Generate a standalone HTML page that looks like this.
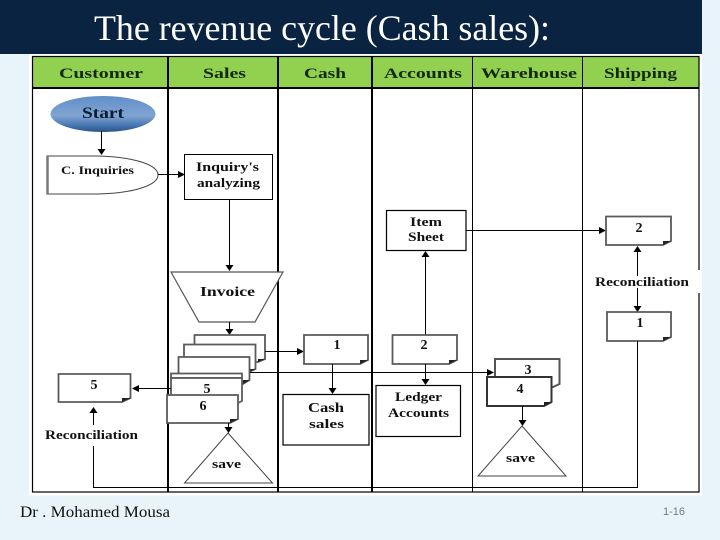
<!DOCTYPE html>
<html><head><meta charset="utf-8">
<style>
html,body{margin:0;padding:0;width:720px;height:540px;overflow:hidden;background:#e8f3fa}
svg{display:block}
text{font-family:"Liberation Serif",serif;font-weight:bold;fill:#111;text-anchor:middle}
.h{font-size:15px;fill:#14280c}
.t{font-size:13px}
.n{font-size:14px}
.d{fill:#fff;stroke:#5a5a5a;stroke-width:1.8}
.f{fill:#222;stroke:none}
.l{stroke:#000;stroke-width:1;fill:none}
.a{fill:#000;stroke:none}
</style></head><body>
<svg width="720" height="540" viewBox="0 0 720 540" xmlns="http://www.w3.org/2000/svg">
<defs>
<linearGradient id="g" x1="0" y1="0" x2="0" y2="1">
<stop offset="0" stop-color="#5f8fc8"/><stop offset=".55" stop-color="#80a4d2"/><stop offset=".85" stop-color="#3f70ac"/><stop offset="1" stop-color="#2c5585"/>
</linearGradient>
</defs>
<rect width="720" height="540" fill="#e8f3fa"/>
<rect x="0" y="0" width="702" height="54" fill="#0a2340"/>
<rect x="29" y="54" width="673" height="441.500" fill="#fff"/>
<rect x="32.500" y="56.500" width="666.500" height="32" fill="#92d050"/>
<rect x="32.500" y="56.500" width="666.500" height="435.500" fill="none" stroke="#000" stroke-width="1.200"/>
<path d="M32 88h667" stroke="#000" stroke-width="2"/>
<path d="M168 56v436M278 56v436M372 56v436" stroke="#000" stroke-width="2"/>
<path d="M472.500 56v436M582.500 56v436" stroke="#000" stroke-width="1"/>
<rect x="690" y="270" width="12" height="23" fill="#fff"/>

<text x="322" y="40" textLength="456" lengthAdjust="spacingAndGlyphs" style="font-size:36px;font-weight:normal;fill:#fff">The revenue cycle (Cash sales):</text>

<text class="h" x="101" y="78" textLength="84" lengthAdjust="spacingAndGlyphs">Customer</text>
<text class="h" x="224.500" y="78" textLength="43" lengthAdjust="spacingAndGlyphs">Sales</text>
<text class="h" x="325" y="78" textLength="42" lengthAdjust="spacingAndGlyphs">Cash</text>
<text class="h" x="423" y="78" textLength="78" lengthAdjust="spacingAndGlyphs">Accounts</text>
<text class="h" x="529" y="78" textLength="96" lengthAdjust="spacingAndGlyphs">Warehouse</text>
<text class="h" x="640.500" y="78" textLength="73" lengthAdjust="spacingAndGlyphs">Shipping</text>

<ellipse cx="103" cy="114" rx="52.500" ry="18" fill="url(#g)"/>
<text x="103" y="118" textLength="42" lengthAdjust="spacingAndGlyphs" style="font-size:16px;fill:#0a1a30">Start</text>
<path class="l" d="M101.500 131V150"/><path class="a" d="M97.500 149h8l-4 6z"/>

<path d="M47 156H98C135 157 158 165 158 175C158 185 135 193 98 194H47Z" fill="#fff" stroke="#444" stroke-width="1"/>
<path d="M47.500 156V194" stroke="#777" stroke-width="2.500"/>
<text class="t" x="97.500" y="174" textLength="73" lengthAdjust="spacingAndGlyphs" style="font-size:12px">C. Inquiries</text>
<path class="l" d="M158 174.500H180"/><path class="a" d="M178 171v7l7-3.500z"/>

<rect x="184.500" y="154.500" width="88" height="45" fill="#fff" stroke="#000"/>
<text class="t" x="227.500" y="171" textLength="63" lengthAdjust="spacingAndGlyphs">Inquiry's</text>
<text class="t" x="228.500" y="187" textLength="63" lengthAdjust="spacingAndGlyphs">analyzing</text>
<path class="l" d="M229.500 200V266"/><path class="a" d="M225.500 265h8l-4 6z"/>

<path d="M171 272H283L255 322H199Z" fill="#fff" stroke="#555" stroke-width="1.200"/>
<text class="t" x="227.500" y="296" textLength="55" lengthAdjust="spacingAndGlyphs" style="font-size:14px">Invoice</text>
<path class="l" d="M229.500 322V330"/><path class="a" d="M225.500 329h8l-4 6z"/>

<path class="d" d="M194.500 335H265V359L258 362H194.500Z"/><path class="f" d="M265 359L258 362V359Z"/>
<path class="d" d="M184 344.500H255.500V369L249 372H184Z"/><path class="f" d="M255.500 369L249 372V369Z"/>
<path class="d" d="M178.500 357H249.500V380L243 384H178.500Z"/><path class="f" d="M249.500 380L243 384V380Z"/>
<path class="d" d="M171 373.500H242V378H171Z"/>
<path class="d" d="M171 378H242V401L236 404H171Z"/>
<text class="n" x="207" y="393">5</text>
<path class="d" d="M167 395H238V419L230 423H167Z"/><path class="f" d="M238 419L230 423V419Z"/>
<text class="n" x="203" y="410">6</text>
<path class="l" d="M228.500 423V430"/><path class="a" d="M224.500 427h8l-4 6z"/>
<path d="M228 433L272.500 483H184.500Z" fill="#fff" stroke="#444" stroke-width="1"/>
<text class="t" x="226.500" y="468" textLength="29" lengthAdjust="spacingAndGlyphs">save</text>

<path class="l" d="M265 351.500H298"/><path class="a" d="M297 348v7l7-3.500z"/>
<path class="d" d="M304 335H368V360L360 364H304Z"/><path class="f" d="M368 360L360 364V360Z"/>
<text class="n" x="337" y="349">1</text>
<path class="l" d="M332.500 364V388"/><path class="a" d="M328.500 388h8l-4 6z"/>
<rect x="283" y="394.500" width="86" height="50.500" fill="#fff" stroke="#000" stroke-width="1.200"/>
<text class="t" x="326" y="412" textLength="36" lengthAdjust="spacingAndGlyphs" style="font-size:14px">Cash</text>
<text class="t" x="326.500" y="428" textLength="35" lengthAdjust="spacingAndGlyphs">sales</text>

<rect x="386.500" y="210.500" width="79.500" height="40" fill="#fff" stroke="#000" stroke-width="1.200"/>
<text class="t" x="426" y="226" textLength="32" lengthAdjust="spacingAndGlyphs">Item</text>
<text class="t" x="426" y="241" textLength="36" lengthAdjust="spacingAndGlyphs">Sheet</text>
<path class="l" d="M425.500 256V335"/><path class="a" d="M421.500 257h8l-4-6z"/>
<path class="l" d="M466 230.500H600"/><path class="a" d="M599 227v7l7-3.500z"/>

<path class="d" d="M392.500 335H457V360L449 364H392.500Z"/><path class="f" d="M457 360L449 364V360Z"/>
<text class="n" x="424" y="349">2</text>
<path class="l" d="M425.500 364V380"/><path class="a" d="M421.500 379h8l-4 6z"/>
<rect x="376" y="385.500" width="84.500" height="51" fill="#fff" stroke="#000" stroke-width="1.200"/>
<text class="t" x="418.500" y="401" textLength="47" lengthAdjust="spacingAndGlyphs">Ledger</text>
<text class="t" x="418.500" y="417" textLength="61" lengthAdjust="spacingAndGlyphs">Accounts</text>

<path class="l" d="M250 372.500H490"/><path class="a" d="M487 369v7l7-3.500z"/>
<path d="M495 359H559.500V384L553 387H495Z" fill="#fff" stroke="#555" stroke-width="2"/>
<text class="n" x="528" y="374">3</text>
<path d="M487 377H551.500V402L544 406H487Z" fill="#fff" stroke="#333" stroke-width="2"/><path class="f" d="M551.500 402L544 406V402Z"/>
<text class="n" x="520" y="393">4</text>
<path class="l" d="M522.500 406V422"/><path class="a" d="M518.500 420h8l-4 6z"/>
<path d="M522 426L566 476H478Z" fill="#fff" stroke="#444" stroke-width="1"/>
<text class="t" x="520.500" y="462" textLength="29" lengthAdjust="spacingAndGlyphs">save</text>

<path class="d" d="M606 216.500H671V241L663 245H606Z"/><path class="f" d="M671 241L663 245V241Z"/>
<text class="n" x="639" y="232">2</text>
<path class="l" d="M637.500 251V312"/><path class="a" d="M633.500 252h8l-4-6z"/>
<rect x="594" y="276" width="96" height="12" fill="#fff"/>
<text class="t" x="642" y="286" textLength="94" lengthAdjust="spacingAndGlyphs" style="font-size:12.500px">Reconciliation</text>
<path class="a" d="M633.500 306h8l-4 6z"/>
<path class="d" d="M607 312H671V337L663 341H607Z"/><path class="f" d="M671 337L663 341V337Z"/>
<text class="n" x="640" y="327">1</text>
<path class="l" d="M637.500 341V487.500H93.500V446"/>

<path class="d" d="M58.500 374H130.500V398L122 402H58.500Z"/><path class="f" d="M130.500 398L122 402V398Z"/>
<text class="n" x="94" y="389">5</text>
<path class="l" d="M171 388.500H138"/><path class="a" d="M139 385v7l-7-3.500z"/>
<path class="l" d="M93.500 425V410"/><path class="a" d="M89.500 413h8l-4-6z"/>
<text class="t" x="91.500" y="439" textLength="93" lengthAdjust="spacingAndGlyphs" style="font-size:12.500px">Reconciliation</text>

<text x="95" y="517" textLength="150" lengthAdjust="spacingAndGlyphs" style="font-size:15.500px;font-weight:normal">Dr . Mohamed Mousa</text>
<text x="674" y="515" style="font-family:'Liberation Sans',sans-serif;font-size:11px;font-weight:normal;fill:#6b7a86">1-16</text>
</svg>
</body></html>
